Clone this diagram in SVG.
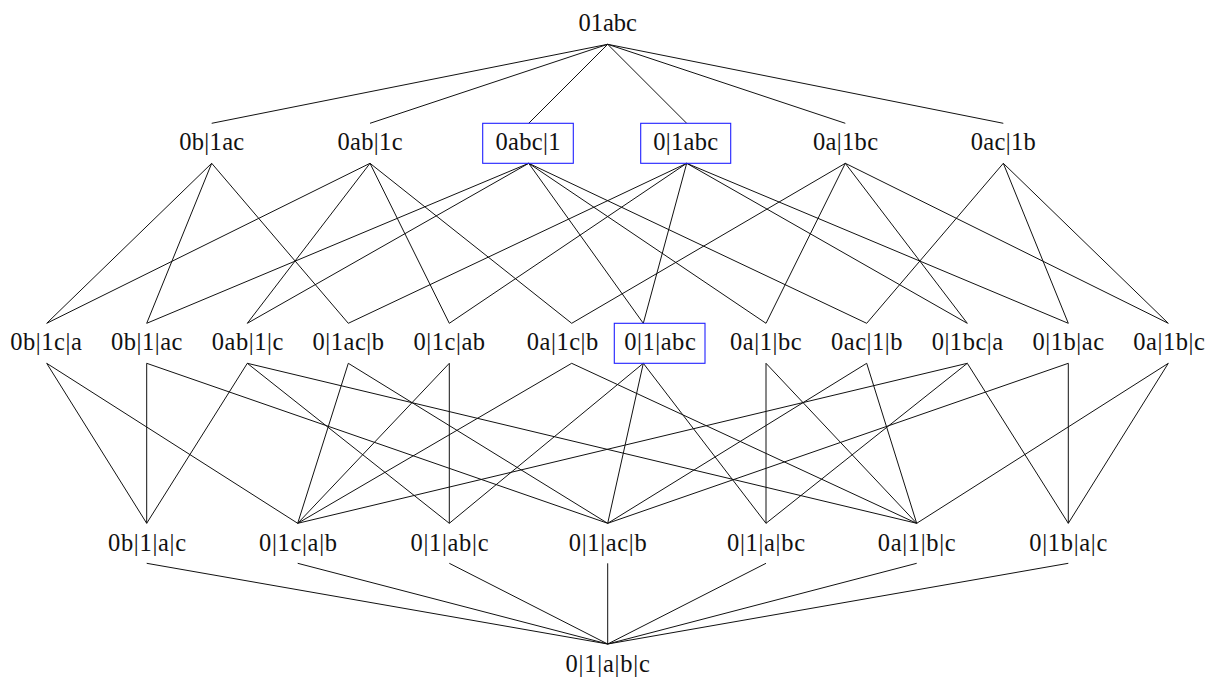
<svg xmlns="http://www.w3.org/2000/svg" width="1207" height="677" viewBox="0 0 1207 677">
<style>
text{font-family:"Liberation Serif","Times New Roman",serif;font-size:24.5px;fill:#111;text-anchor:middle}
#edges line{stroke:#111;stroke-width:1}
rect.hl{fill:none;stroke:#2020ff;stroke-width:1.1}
</style>
<rect width="1207" height="677" fill="#fff"/>
<g id="edges">
<line x1="607.7" y1="44.3" x2="211.7" y2="123.3"/>
<line x1="607.7" y1="44.3" x2="370" y2="123.3"/>
<line x1="607.7" y1="44.3" x2="528.7" y2="123.3"/>
<line x1="607.7" y1="44.3" x2="686.7" y2="123.3"/>
<line x1="607.7" y1="44.3" x2="845.3" y2="123.3"/>
<line x1="607.7" y1="44.3" x2="1003.3" y2="123.3"/>
<line x1="211.7" y1="163.3" x2="46.7" y2="323.3"/>
<line x1="211.7" y1="163.3" x2="146.7" y2="323.3"/>
<line x1="211.7" y1="163.3" x2="348.3" y2="323.3"/>
<line x1="370" y1="163.3" x2="46.7" y2="323.3"/>
<line x1="370" y1="163.3" x2="247.3" y2="323.3"/>
<line x1="370" y1="163.3" x2="449.3" y2="323.3"/>
<line x1="370" y1="163.3" x2="571.7" y2="323.3"/>
<line x1="528.7" y1="163.3" x2="146.7" y2="323.3"/>
<line x1="528.7" y1="163.3" x2="247.3" y2="323.3"/>
<line x1="528.7" y1="163.3" x2="643.3" y2="323.3"/>
<line x1="528.7" y1="163.3" x2="766" y2="323.3"/>
<line x1="528.7" y1="163.3" x2="866.7" y2="323.3"/>
<line x1="686.7" y1="163.3" x2="348.3" y2="323.3"/>
<line x1="686.7" y1="163.3" x2="449.3" y2="323.3"/>
<line x1="686.7" y1="163.3" x2="643.3" y2="323.3"/>
<line x1="686.7" y1="163.3" x2="967.3" y2="323.3"/>
<line x1="686.7" y1="163.3" x2="1068.3" y2="323.3"/>
<line x1="845.3" y1="163.3" x2="571.7" y2="323.3"/>
<line x1="845.3" y1="163.3" x2="766" y2="323.3"/>
<line x1="845.3" y1="163.3" x2="967.3" y2="323.3"/>
<line x1="845.3" y1="163.3" x2="1168.3" y2="323.3"/>
<line x1="1003.3" y1="163.3" x2="866.7" y2="323.3"/>
<line x1="1003.3" y1="163.3" x2="1068.3" y2="323.3"/>
<line x1="1003.3" y1="163.3" x2="1168.3" y2="323.3"/>
<line x1="46.7" y1="363.3" x2="146.7" y2="523.3"/>
<line x1="46.7" y1="363.3" x2="297.7" y2="523.3"/>
<line x1="146.7" y1="363.3" x2="146.7" y2="523.3"/>
<line x1="146.7" y1="363.3" x2="607.7" y2="523.3"/>
<line x1="247.3" y1="363.3" x2="146.7" y2="523.3"/>
<line x1="247.3" y1="363.3" x2="449.3" y2="523.3"/>
<line x1="247.3" y1="363.3" x2="916.7" y2="523.3"/>
<line x1="348.3" y1="363.3" x2="297.7" y2="523.3"/>
<line x1="348.3" y1="363.3" x2="607.7" y2="523.3"/>
<line x1="449.3" y1="363.3" x2="297.7" y2="523.3"/>
<line x1="449.3" y1="363.3" x2="449.3" y2="523.3"/>
<line x1="571.7" y1="363.3" x2="297.7" y2="523.3"/>
<line x1="571.7" y1="363.3" x2="916.7" y2="523.3"/>
<line x1="643.3" y1="363.3" x2="449.3" y2="523.3"/>
<line x1="643.3" y1="363.3" x2="607.7" y2="523.3"/>
<line x1="643.3" y1="363.3" x2="766" y2="523.3"/>
<line x1="766" y1="363.3" x2="766" y2="523.3"/>
<line x1="766" y1="363.3" x2="916.7" y2="523.3"/>
<line x1="866.7" y1="363.3" x2="607.7" y2="523.3"/>
<line x1="866.7" y1="363.3" x2="916.7" y2="523.3"/>
<line x1="967.3" y1="363.3" x2="297.7" y2="523.3"/>
<line x1="967.3" y1="363.3" x2="766" y2="523.3"/>
<line x1="967.3" y1="363.3" x2="1068.3" y2="523.3"/>
<line x1="1068.3" y1="363.3" x2="607.7" y2="523.3"/>
<line x1="1068.3" y1="363.3" x2="1068.3" y2="523.3"/>
<line x1="1168.3" y1="363.3" x2="916.7" y2="523.3"/>
<line x1="1168.3" y1="363.3" x2="1068.3" y2="523.3"/>
<line x1="146.7" y1="563.3" x2="607.7" y2="644"/>
<line x1="297.7" y1="563.3" x2="607.7" y2="644"/>
<line x1="449.3" y1="563.3" x2="607.7" y2="644"/>
<line x1="607.7" y1="563.3" x2="607.7" y2="644"/>
<line x1="766" y1="563.3" x2="607.7" y2="644"/>
<line x1="916.7" y1="563.3" x2="607.7" y2="644"/>
<line x1="1068.3" y1="563.3" x2="607.7" y2="644"/>
</g>
<g id="n-01abc"><text x="607.7" y="30.5">01abc</text></g>
<g id="n-0b-1ac"><text x="211.7" y="150" textLength="65" lengthAdjust="spacing">0b|1ac</text></g>
<g id="n-0ab-1c"><text x="370" y="150" textLength="65" lengthAdjust="spacing">0ab|1c</text></g>
<g id="n-0abc-1"><rect class="hl" x="482.7" y="123.3" width="90.6" height="40"/><text x="528" y="150" textLength="65" lengthAdjust="spacing">0abc|1</text></g>
<g id="n-0-1abc"><rect class="hl" x="640.7" y="123.3" width="90" height="40"/><text x="685.7" y="150" textLength="65" lengthAdjust="spacing">0|1abc</text></g>
<g id="n-0a-1bc"><text x="845.5" y="150" textLength="65" lengthAdjust="spacing">0a|1bc</text></g>
<g id="n-0ac-1b"><text x="1003.3" y="150" textLength="65" lengthAdjust="spacing">0ac|1b</text></g>
<g id="n-0b-1c-a"><text x="46" y="350" textLength="71.5" lengthAdjust="spacing">0b|1c|a</text></g>
<g id="n-0b-1-ac"><text x="146.7" y="350" textLength="71.5" lengthAdjust="spacing">0b|1|ac</text></g>
<g id="n-0ab-1-c"><text x="247.5" y="350" textLength="71.5" lengthAdjust="spacing">0ab|1|c</text></g>
<g id="n-0-1ac-b"><text x="348.3" y="350" textLength="71.5" lengthAdjust="spacing">0|1ac|b</text></g>
<g id="n-0-1c-ab"><text x="449.3" y="350" textLength="71.5" lengthAdjust="spacing">0|1c|ab</text></g>
<g id="n-0a-1c-b"><text x="562.5" y="350" textLength="71.5" lengthAdjust="spacing">0a|1c|b</text></g>
<g id="n-0-1-abc"><rect class="hl" x="614.3" y="323.3" width="90.7" height="40"/><text x="660" y="350" textLength="71.5" lengthAdjust="spacing">0|1|abc</text></g>
<g id="n-0a-1-bc"><text x="765.8" y="350" textLength="71.5" lengthAdjust="spacing">0a|1|bc</text></g>
<g id="n-0ac-1-b"><text x="866.7" y="350" textLength="71.5" lengthAdjust="spacing">0ac|1|b</text></g>
<g id="n-0-1bc-a"><text x="967.4" y="350" textLength="71.5" lengthAdjust="spacing">0|1bc|a</text></g>
<g id="n-0-1b-ac"><text x="1068.3" y="350" textLength="71.5" lengthAdjust="spacing">0|1b|ac</text></g>
<g id="n-0a-1b-c"><text x="1169" y="350" textLength="71.5" lengthAdjust="spacing">0a|1b|c</text></g>
<g id="n-0b-1-a-c"><text x="147" y="550.7" textLength="78" lengthAdjust="spacing">0b|1|a|c</text></g>
<g id="n-0-1c-a-b"><text x="298" y="550.7" textLength="78" lengthAdjust="spacing">0|1c|a|b</text></g>
<g id="n-0-1-ab-c"><text x="449.5" y="550.7" textLength="78" lengthAdjust="spacing">0|1|ab|c</text></g>
<g id="n-0-1-ac-b"><text x="607.7" y="550.7" textLength="78" lengthAdjust="spacing">0|1|ac|b</text></g>
<g id="n-0-1-a-bc"><text x="766" y="550.7" textLength="78" lengthAdjust="spacing">0|1|a|bc</text></g>
<g id="n-0a-1-b-c"><text x="916.7" y="550.7" textLength="78" lengthAdjust="spacing">0a|1|b|c</text></g>
<g id="n-0-1b-a-c"><text x="1068.3" y="550.7" textLength="78" lengthAdjust="spacing">0|1b|a|c</text></g>
<g id="n-0-1-a-b-c"><text x="607.7" y="671.5" textLength="84.5" lengthAdjust="spacing">0|1|a|b|c</text></g>
</svg>
